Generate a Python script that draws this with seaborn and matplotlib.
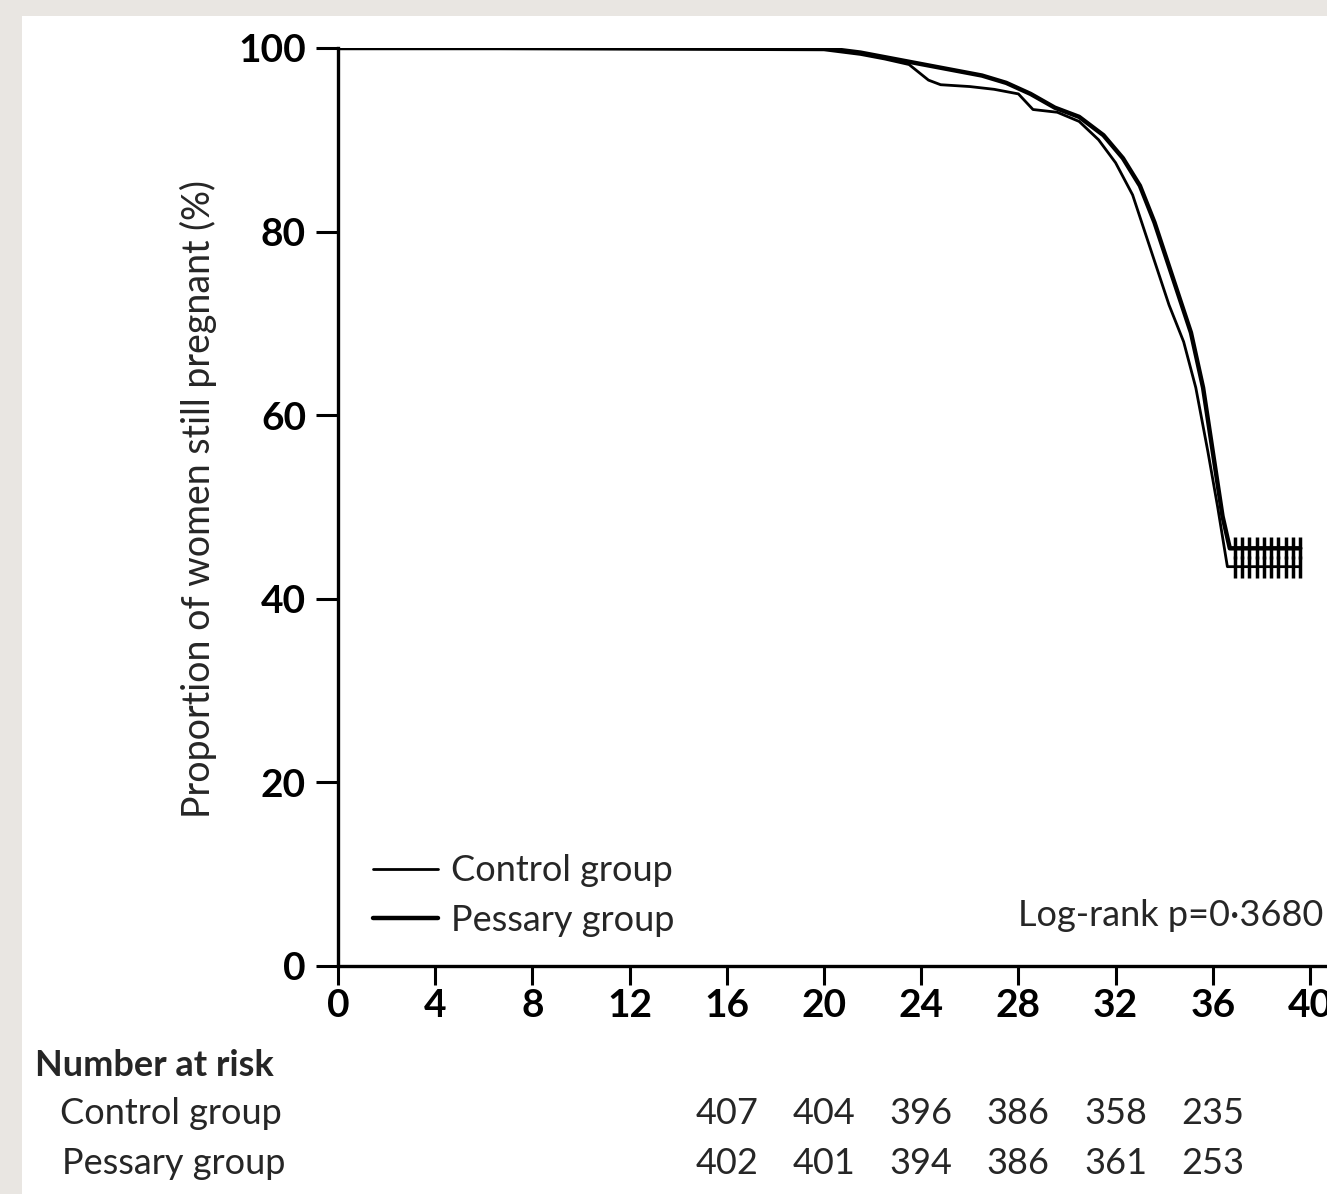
import numpy as np
import pandas as pd
import matplotlib
matplotlib.use("Agg")
import matplotlib.pyplot as plt
import matplotlib.transforms as mtransforms
from matplotlib.patches import Rectangle
import seaborn as sns

# Kaplan-Meier curves (gestational age in weeks, % still pregnant)
weeks_control = [0, 20, 21.5, 22.5, 23.5, 24.3, 24.8, 26, 27, 28, 28.6, 29.6, 30.5, 31.3,
                 32, 32.7, 33.2, 33.7, 34.2, 34.8, 35.3, 35.8, 36.2, 36.6, 39.6]
surv_control = [100, 99.8, 99.3, 98.8, 98.2, 96.5, 96, 95.8, 95.5, 95, 93.3, 93, 92, 90,
                87.5, 84, 80, 76, 72, 68, 63, 56, 50, 43.5, 43.5]

weeks_pessary = [0, 20, 21.5, 22.5, 23.5, 24.5, 25.5, 26.5, 27.5, 28.5, 29.5, 30.5, 31.5,
                 32.3, 33, 33.6, 34.1, 34.6, 35.1, 35.6, 36.0, 36.4, 36.7, 39.6]
surv_pessary = [100, 100, 99.5, 99, 98.5, 98, 97.5, 97, 96.2, 95, 93.5, 92.5, 90.5,
                88, 85, 81, 77, 73, 69, 63, 56, 49, 45.5, 45.5]

# censored observations at the end of follow-up
censor_weeks = [36.9, 37.2, 37.5, 37.8, 38.1, 38.4, 38.7, 39.0, 39.3, 39.6]

risk_weeks = [16, 20, 24, 28, 32, 36]
risk_control = [407, 404, 396, 386, 358, 235]
risk_pessary = [402, 401, 394, 386, 361, 253]

x_ticks = list(range(0, 41, 4))
y_ticks = [0, 20, 40, 60, 80, 100]

W, H = 1327, 1194

sns.set_theme(style="ticks")
plt.rcParams['font.family'] = ['Lato', 'DejaVu Sans']


def fpos(x, y):
    """pixel position -> figure fraction"""
    return x / W, 1 - y / H


fig = plt.figure(figsize=(W / 100, H / 100), dpi=100, facecolor='#e9e6e2')
fig.patches.append(Rectangle((22 / W, 0), 1, 1 - 16 / H, transform=fig.transFigure,
                             facecolor='white', edgecolor='none', zorder=-10))

ax = fig.add_axes([338 / W, 228 / H, 1 - 338 / W, 918 / H])
ax.set_zorder(2)
ax.set_facecolor('white')

ctrl = pd.DataFrame({'week': weeks_control, 'surv': surv_control})
pess = pd.DataFrame({'week': weeks_pessary, 'surv': surv_pessary})

sns.lineplot(data=ctrl, x='week', y='surv', color='black', linewidth=2.0,
             estimator=None, sort=False, ax=ax, label='Control group')
sns.lineplot(data=pess, x='week', y='surv', color='black', linewidth=3.2,
             estimator=None, sort=False, ax=ax, label='Pessary group')

cens = pd.DataFrame({'week': censor_weeks * 2,
                     'surv': [surv_control[-1]] * len(censor_weeks) + [surv_pessary[-1]] * len(censor_weeks)})
sns.scatterplot(data=cens, x='week', y='surv', marker='|', s=260, color='black',
                linewidth=2.5, ax=ax, legend=False)

ax.set_xlim(0, (W - 338) / 24.3)
ax.set_ylim(0, 100)
ax.set_xticks(x_ticks)
ax.set_yticks(y_ticks)
ax.set_xlabel('')
ax.set_ylabel('')
sns.despine(ax=ax)
for s in ['left', 'bottom']:
    ax.spines[s].set_linewidth(2.4)
    ax.spines[s].set_color('black')
ax.tick_params(axis='y', length=16, width=2.2, pad=7, labelsize=28, colors='black')
ax.tick_params(axis='x', length=14, width=2.2, pad=2, labelsize=28, colors='black')
for lab in ax.get_xticklabels() + ax.get_yticklabels():
    lab.set_fontweight('bold')

leg = ax.legend(loc='lower left', bbox_to_anchor=(35 / 989, 0.032), frameon=False,
                borderpad=0, borderaxespad=0, fontsize=26, handlelength=1.8,
                handletextpad=0.35, labelspacing=0.45)

fig.text(*fpos(198, 499), 'Proportion of women still pregnant (%)', rotation=90,
         ha='center', va='center', fontsize=27)
fig.text(*fpos(1018, 916), 'Log-rank p=0\u00b73680', ha='left', va='center', fontsize=26)

# number at risk table
fig.text(*fpos(35, 1065), 'Number at risk', ha='left', va='center', fontsize=26, fontweight='bold')
fig.text(*fpos(60, 1113), 'Control group', ha='left', va='center', fontsize=26)
fig.text(*fpos(62, 1163), 'Pessary group', ha='left', va='center', fontsize=26)
trans = mtransforms.blended_transform_factory(ax.transData, fig.transFigure)
for wk, c, p in zip(risk_weeks, risk_control, risk_pessary):
    ax.text(wk, 1 - 1113 / H, str(c), transform=trans, ha='center', va='center',
            fontsize=26, clip_on=False)
    ax.text(wk, 1 - 1163 / H, str(p), transform=trans, ha='center', va='center',
            fontsize=26, clip_on=False)

fig.savefig('out.png', dpi=100, facecolor=fig.get_facecolor())
